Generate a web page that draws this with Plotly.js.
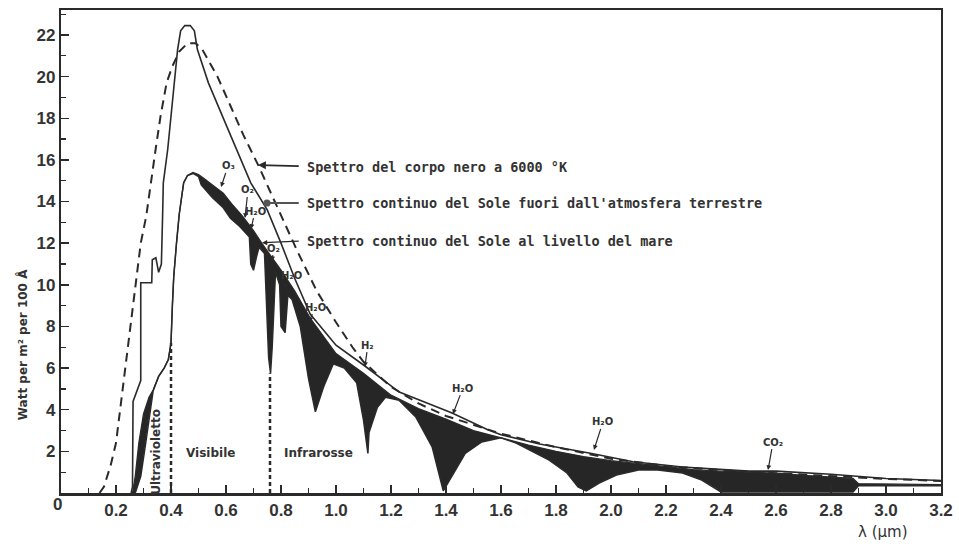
<!DOCTYPE html>
<html><head><meta charset="utf-8">
<script src="https://cdn.plot.ly/plotly-3.0.1.min.js"></script>
<style>html,body{margin:0;padding:0;background:#fff;}#chart{width:959px;height:546px;}</style>
</head><body><div id="chart"></div>
<script>
// Blackbody 6000 K (dashed)
const bbLam = [0.14,0.156,0.18,0.20,0.23,0.26,0.29,0.31,0.326,0.344,0.362,0.384,0.405,0.43,0.46,0.49,0.514,0.569,0.616,0.663,0.717,0.75,0.80,0.86,0.93,1.00,1.06,1.10,1.20,1.30,1.40,1.60,1.80,2.00,2.20,2.40,2.60,2.80,3.00,3.20];
const bbVal = [0,0.3,1.3,2.4,5.6,8.8,12.0,13.3,14.9,16.5,18.1,19.7,20.5,21.2,21.6,21.6,21.3,20.0,18.6,17.2,15.75,14.8,13.3,11.6,9.7,8.2,7.0,6.3,5.1,4.3,3.7,2.85,2.2,1.65,1.3,1.1,0.95,0.8,0.68,0.58];
// Sun outside the atmosphere (solid)
const outLam = [0.255,0.26,0.262,0.29,0.29,0.33,0.332,0.345,0.355,0.365,0.37,0.372,0.388,0.40,0.41,0.424,0.435,0.45,0.47,0.485,0.496,0.536,0.587,0.64,0.69,0.75,0.80,0.85,0.906,1.00,1.105,1.23,1.42,1.55,1.60,1.74,1.93,2.08,2.26,2.50,2.60,2.80,3.00,3.20];
const outVal = [0,0.3,4.4,5.4,10.1,10.1,11.2,11.3,10.6,11.0,13.6,14.9,16.5,18.1,19.7,21.3,22.2,22.45,22.45,22.2,21.3,19.7,18.1,16.45,14.9,13.6,12.0,10.3,8.6,7.1,6.1,4.85,3.85,3.05,2.8,2.35,1.9,1.5,1.25,1.05,1.05,0.9,0.7,0.6];
// Sun at sea level, continuum (top of shaded absorption)
const contLam = [0.26,0.27,0.283,0.30,0.32,0.335,0.355,0.375,0.39,0.40,0.405,0.41,0.42,0.43,0.446,0.46,0.48,0.50,0.52,0.55,0.59,0.62,0.66,0.70,0.73,0.80,0.85,0.906,1.00,1.10,1.20,1.30,1.40,1.50,1.60,1.70,1.80,1.90,2.00,2.10,2.20,2.30,2.40,2.50,2.60,2.70,2.80,2.88,2.90,3.20];
const contVal = [0,0.8,2.4,3.8,4.6,4.95,5.6,6.0,6.4,7.2,9.0,10.4,12.0,13.4,14.9,15.25,15.4,15.3,15.1,14.8,14.4,13.9,13.3,12.6,12.0,10.7,9.7,8.4,6.7,5.75,4.7,4.05,3.55,3.0,2.65,2.3,2.0,1.75,1.55,1.4,1.25,1.12,1.05,1.0,0.95,0.85,0.75,0.7,0.45,0.4];
// Sun at sea level (bottom of shaded absorption)
const seaLam = [0.27,0.29,0.308,0.32,0.335,0.355,0.375,0.39,0.40,0.405,0.41,0.42,0.43,0.446,0.46,0.48,0.50,0.51,0.55,0.59,0.616,0.65,0.685,0.69,0.70,0.71,0.72,0.74,0.755,0.762,0.768,0.78,0.795,0.80,0.815,0.825,0.84,0.87,0.90,0.925,0.94,0.955,0.99,1.03,1.075,1.10,1.116,1.12,1.15,1.18,1.23,1.29,1.35,1.39,1.42,1.47,1.53,1.60,1.655,1.715,1.775,1.84,1.88,1.91,1.957,2.02,2.10,2.17,2.26,2.33,2.38,2.40,2.50,2.70,2.88,2.90,3.20];
const seaVal = [0,0.8,2.4,3.6,4.9,5.6,6.0,6.4,7.2,9.0,10.4,12.0,13.4,14.9,15.25,15.35,15.2,14.8,14.2,13.7,13.2,12.8,12.3,11.0,10.7,11.3,11.8,11.5,6.5,5.75,7.0,10.6,10.0,8.0,7.7,9.5,9.3,8.0,5.5,3.9,4.5,5.1,6.2,6.0,5.3,3.5,1.9,2.9,4.1,4.6,4.45,3.65,2.2,0.1,0.77,1.9,2.45,2.65,2.4,2.0,1.58,0.96,0.29,0.1,0.48,0.86,1.1,1.1,0.96,0.62,0.24,0.05,0.05,0.05,0.05,0.35,0.35];
// Region boundaries (ultraviolet/visible, visible/infrared)
const uvLam = [0.4,0.4], uvVal = [0,7.2];
const irLam = [0.76,0.76], irVal = [0,5.75];
// Axis ticks
const xTicks = [0.2,0.4,0.6,0.8,1.0,1.2,1.4,1.6,1.8,2.0,2.2,2.4,2.6,2.8,3.0,3.2];
const xTickText = ['0.2','0.4','0.6','0.8','1.0','1.2','1.4','1.6','1.8','2.0','2.2','2.4','2.6','2.8','3.0','3.2'];
const yTicks = [2,4,6,8,10,12,14,16,18,20,22];

const ink = '#2a2a2a';
const polyX = contLam.concat(seaLam.slice().reverse());
const polyY = contVal.concat(seaVal.slice().reverse());

const traces = [
  {x: polyX, y: polyY, mode:'lines', fill:'toself', fillcolor:'#262626', line:{width:0, color:'#262626'}, hoverinfo:'skip'},
  {x: contLam, y: contVal, mode:'lines', line:{color:ink, width:1.3}},
  {x: seaLam, y: seaVal, mode:'lines', line:{color:ink, width:1.5}},
  {x: outLam, y: outVal, mode:'lines', line:{color:ink, width:1.6}},
  {x: bbLam, y: bbVal, mode:'lines', line:{color:ink, width:2, dash:'9px,6px'}},
  {x: uvLam, y: uvVal, mode:'lines', line:{color:ink, width:2.5, dash:'4px,3px'}},
  {x: irLam, y: irVal, mode:'lines', line:{color:ink, width:2.5, dash:'4px,3px'}}
];

const bigFont = {family:'DejaVu Sans Mono, monospace', size:13.5, color:'#333', weight:'bold'};
const gasFont = {family:'DejaVu Sans, sans-serif', size:10, color:'#333', weight:'bold'};
const regFont = {family:'DejaVu Sans, sans-serif', size:12, color:'#333', weight:'bold'};

function gas(text, x, y, ax, ay){
  return {text:text, x:x, y:y, xref:'x', yref:'y', showarrow:true, arrowhead:2, arrowsize:0.8, arrowwidth:1.2, arrowcolor:ink, ax:ax, ay:ay, font:gasFont};
}

const annotations = [
  {text:'Spettro del corpo nero a 6000 °K', x:0.887, y:15.66, xref:'x', yref:'y', xanchor:'left', showarrow:false, font:bigFont},
  {text:"Spettro continuo del Sole fuori dall'atmosfera terrestre", x:0.887, y:13.93, xref:'x', yref:'y', xanchor:'left', showarrow:false, font:bigFont},
  {text:'Spettro continuo del Sole al livello del mare', x:0.887, y:12.1, xref:'x', yref:'y', xanchor:'left', showarrow:false, font:bigFont},
  {text:'', x:0.716, y:15.75, xref:'x', yref:'y', axref:'x', ayref:'y', ax:0.87, ay:15.7, showarrow:true, arrowhead:2, arrowsize:1, arrowwidth:1.6, arrowcolor:ink},
  {text:'', x:0.749, y:13.93, xref:'x', yref:'y', axref:'x', ayref:'y', ax:0.87, ay:13.93, showarrow:true, arrowhead:6, arrowsize:1, arrowwidth:1.8, arrowcolor:'#555'},
  {text:'', x:0.731, y:12.02, xref:'x', yref:'y', axref:'x', ayref:'y', ax:0.87, ay:12.1, showarrow:true, arrowhead:2, arrowsize:0.8, arrowwidth:1.3, arrowcolor:ink},
  gas('O₃', 0.582, 14.70, 7, -21),
  gas('O₂', 0.669, 13.21, 3, -28),
  gas('H₂O', 0.691, 12.68, 4, -18),
  gas('O₂', 0.767, 11.14, 2, -13),
  gas('H₂O', 0.807, 9.85, 9, -12),
  gas('H₂O', 0.902, 8.21, 6, -15),
  gas('H₂', 1.105, 6.05, 3, -22),
  gas('H₂O', 1.425, 3.79, 10, -26),
  gas('H₂O', 1.938, 2.07, 9, -28),
  gas('CO₂', 2.571, 1.10, 5, -28),
  {text:'Ultravioletto', x:0.345, y:1.97, xref:'x', yref:'y', textangle:-90, showarrow:false, font:regFont},
  {text:'Visibile', x:0.545, y:1.92, xref:'x', yref:'y', showarrow:false, font:regFont},
  {text:'Infrarosse', x:0.935, y:1.92, xref:'x', yref:'y', showarrow:false, font:regFont},
  {text:'0', x:-0.0045, y:-0.023, xref:'paper', yref:'paper', xanchor:'center', yanchor:'middle', showarrow:false, font:{family:'Liberation Sans, sans-serif', size:17, color:'#333', weight:'bold'}},
  {text:'λ (μm)', x:0.934, y:-0.081, xref:'paper', yref:'paper', xanchor:'center', yanchor:'middle', showarrow:false, font:{family:'DejaVu Sans, sans-serif', size:15, color:'#333'}},
  {text:'Watt per m² per 100 Å', x:-0.0443, y:0.306, xref:'paper', yref:'paper', xanchor:'center', yanchor:'middle', textangle:-90, showarrow:false, font:{family:'DejaVu Sans, sans-serif', size:12, color:'#333', weight:'bold'}}
];

const tickFont = {family:'Liberation Sans, sans-serif', size:17, color:'#333', weight:'bold'};
const layout = {
  width:959, height:546,
  margin:{l:61, r:18, t:10, b:53},
  paper_bgcolor:'#fff', plot_bgcolor:'#fff',
  showlegend:false,
  xaxis:{range:[0,3.2], tickvals:xTicks, ticktext:xTickText, ticks:'inside', ticklen:8, tickwidth:1.5, tickcolor:ink,
         minor:{dtick:0.1, tick0:0, ticks:'inside', ticklen:5, tickwidth:1.3, tickcolor:ink},
         showline:true, linewidth:2.5, linecolor:ink, mirror:true, showgrid:false, zeroline:false, tickfont:tickFont},
  yaxis:{range:[0,23.2], tickvals:yTicks, ticks:'inside', ticklen:8, tickwidth:1.5, tickcolor:ink,
         minor:{dtick:1, tick0:0, ticks:'inside', ticklen:5, tickwidth:1.3, tickcolor:ink},
         showline:true, linewidth:2.2, linecolor:ink, mirror:true, showgrid:false, zeroline:false, tickfont:tickFont},
  annotations:annotations
};
Plotly.newPlot('chart', traces, layout, {staticPlot:true});
</script></body></html>
